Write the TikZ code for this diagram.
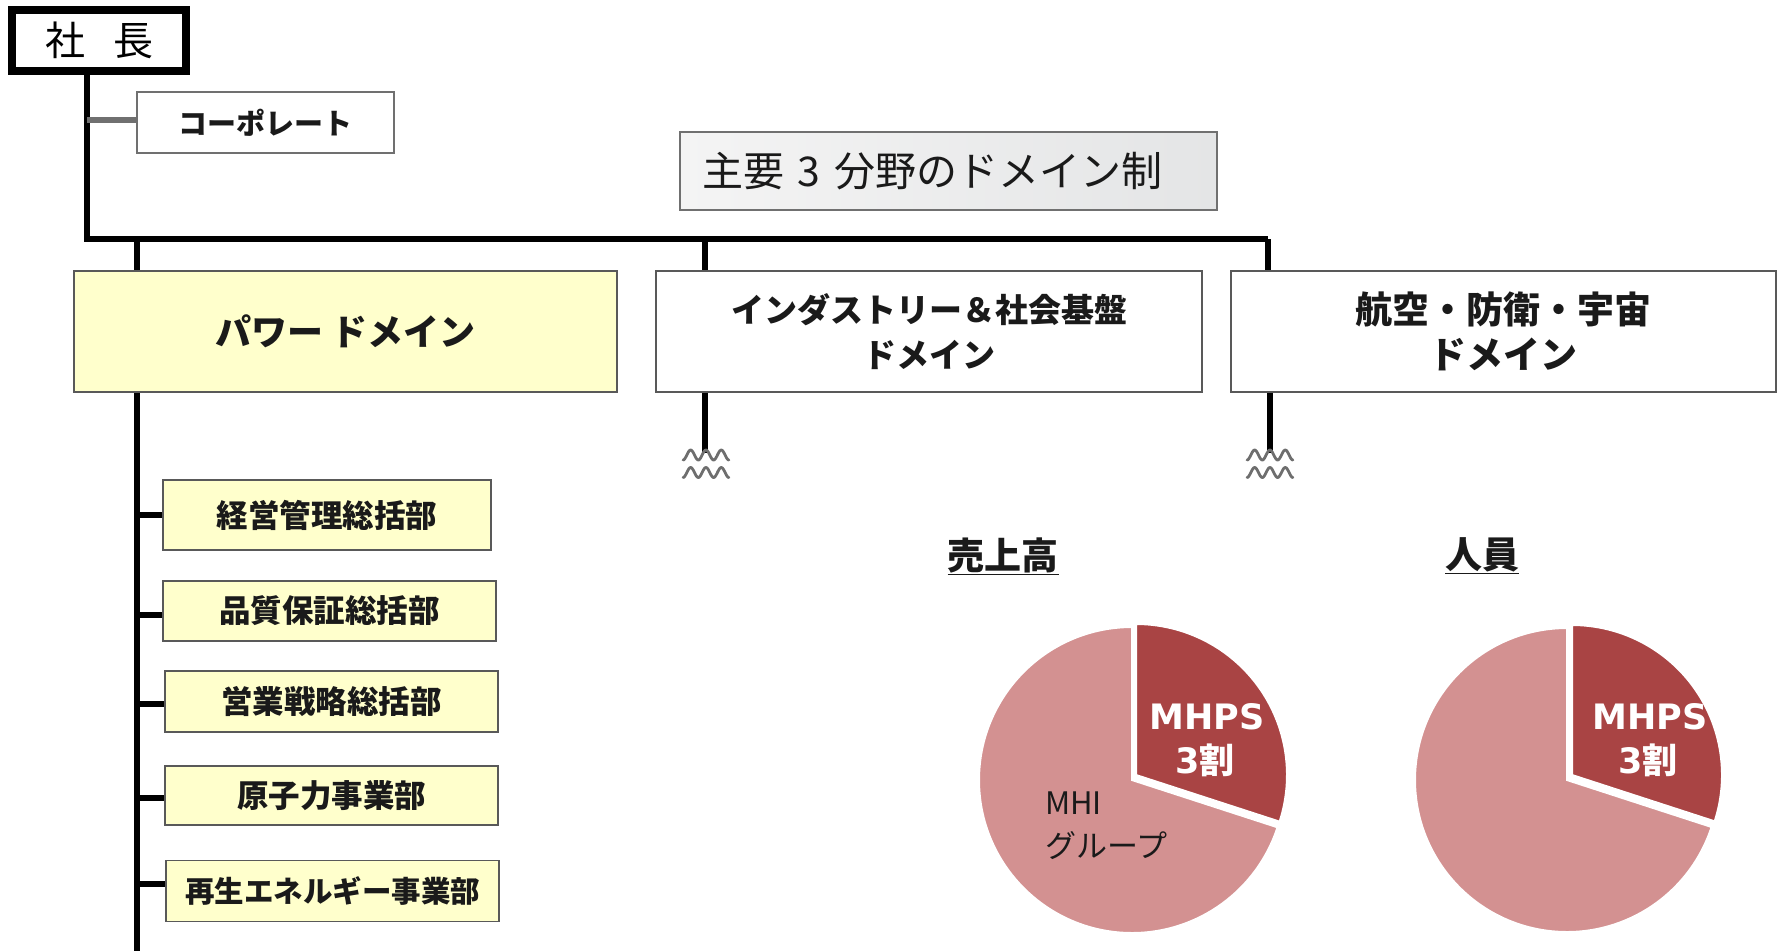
\documentclass[tikz,border=0pt]{standalone}
\usepackage{fontspec}
\setmainfont{Noto Sans CJK JP}
\newfontfamily\dv{DejaVu Sans}
\definecolor{boxgray}{HTML}{595959}
\definecolor{lightyellow}{HTML}{FFFFCC}
\definecolor{wavegray}{HTML}{6E6E6E}
\definecolor{corpgray}{HTML}{707070}
\definecolor{tl}{HTML}{F4F4F4}
\definecolor{tr}{HTML}{E4E5E6}
\definecolor{darkpie}{HTML}{A94444}
\definecolor{lightpie}{HTML}{D39191}
\definecolor{txt}{HTML}{1A1A1A}
\newcommand\fsz[2]{\fontsize{#1}{#2}\selectfont}
\tikzset{
  box/.style={draw=boxgray, line width=1.8pt, inner sep=0pt, align=center, text=txt},
  ybox/.style={box, fill=lightyellow},
  subbox/.style={ybox, font=\bfseries\fsz{31.5}{36}},
  conn/.style={line width=5.5pt, black},
  wave/.style={line width=2.8pt, wavegray, line cap=round},
  pielabel/.style={text=white, inner sep=0pt},
}
\begin{document}
\begin{tikzpicture}[x=1pt,y=-1pt]
\useasboundingbox (0,0) rectangle (1787,951);
% top
\node[draw=black, line width=8pt, minimum width=174pt, minimum height=61pt, inner sep=0pt, font=\fsz{40}{42}] (pres) at (99,40.5) {社\hspace{28pt}長};
\node[draw=corpgray, line width=2pt, minimum width=257pt, minimum height=61pt, inner sep=0pt, font=\bfseries\fsz{29}{34}, text=txt] (corp) at (265.5,122.5) {コーポレート};
\node[draw=corpgray, line width=1.8pt, left color=tl, right color=tr, minimum height=78pt, inner xsep=22pt, inner ysep=0pt, text width=493pt, align=left, font=\fsz{41}{46}, text=txt] (title) at (948.5,171) {主要 3 分野のドメイン制};
% domains
\node[ybox, minimum width=543pt, minimum height=121pt, font=\bfseries\fsz{36}{44}] (power) at (345.5,331.5) {パワー ドメイン};
\node[box, fill=white, minimum width=546pt, minimum height=121pt, font=\bfseries\fsz{33}{45}] (ind) at (929,331.5) {インダストリー＆社会基盤\\ドメイン};
\node[box, fill=white, minimum width=545pt, minimum height=121pt, font=\bfseries\fsz{37}{45}] (aero) at (1503.5,331.5) {航空・防衛・宇宙\\ドメイン};
% tree
\coordinate (j0) at (87,239);
\coordinate (j1) at (137,239);
\coordinate (j2) at (705,239);
\coordinate (j3) at (1268,239);
\coordinate (cj) at (87,120);
\draw[conn, line width=6.5pt] (pres.south -| j0) -- (j0) -- (j3);
\draw[conn] (j1) -- (power.north -| j1);
\draw[conn] (j2) -- (ind.north -| j2);
\draw[conn] (j3) -- (aero.north -| j3);
\draw[line width=6pt, corpgray] (cj) -- (cj -| corp.west);
% wave stubs
\coordinate (w1) at (705,453);
\coordinate (w2) at (1270,453);
\draw[conn] (ind.south -| w1) -- (w1);
\draw[conn] (aero.south -| w2) -- (w2);
\foreach \xo in {683,1247}{
  \draw[wave] plot[domain=0:3, samples=61, smooth] ({\xo+15.3*\x}, {455+5*cos(360*\x)});
  \draw[wave] plot[domain=0:3, samples=61, smooth] ({\xo+15.3*\x}, {472.5+5*cos(360*\x)});
}
% sub boxes
\node[subbox, minimum width=328pt, minimum height=70pt] (s1) at (327,515) {経営管理総括部};
\node[subbox, minimum width=333pt, minimum height=60pt] (s2) at (329.5,611) {品質保証総括部};
\node[subbox, minimum width=333pt, minimum height=61pt] (s3) at (331.5,701.5) {営業戦略総括部};
\node[subbox, minimum width=333pt, minimum height=59pt] (s4) at (331.5,795.5) {原子力事業部};
\node[subbox, minimum width=333pt, minimum height=61pt, font=\bfseries\fsz{29.5}{36}] (s5) at (332.5,891) {再生エネルギー事業部};
\coordinate (pb) at (137,951);
\draw[conn] (power.south -| pb) -- (pb);
\coordinate (k1) at (137,515);
\coordinate (k2) at (137,615);
\coordinate (k3) at (137,704);
\coordinate (k4) at (137,798);
\coordinate (k5) at (137,884);
\draw[conn] (k1) -- (k1 -| s1.west);
\draw[conn] (k2) -- (k2 -| s2.west);
\draw[conn] (k3) -- (k3 -| s3.west);
\draw[conn] (k4) -- (k4 -| s4.west);
\draw[conn] (k5) -- (k5 -| s5.west);
% labels
\node[font=\bfseries\fsz{37}{40}, text=txt] (sales) at (1003,556) {\underline{売上高}};
\node[font=\bfseries\fsz{37}{40}, text=txt] (staff) at (1482,556) {\underline{人員}};
% pie 1
\coordinate (p1) at (1132,780);
\coordinate (p1d) at (1136,775);
\fill[lightpie, draw=white, line width=2pt] (p1) -- ++(-90:153) arc[start angle=-90, end angle=-342, radius=153] -- cycle;
\fill[darkpie, draw=white, line width=2pt] (p1d) -- ++(18:151) arc[start angle=18, end angle=-90, radius=151] -- cycle;
\node[pielabel, font=\dv\bfseries\fsz{35}{40}] (m1) at (1207,717) {MHPS};
\node[pielabel, font=\bfseries\fsz{35}{40}] (m1b) at (1205,760) {{\dv 3}割};
\node[anchor=west, align=left, inner sep=0pt, text=txt, font=\fsz{31}{43}] (mhi) at (1045,826) {MHI\\グループ};
% pie 2
\coordinate (p2) at (1567,780);
\coordinate (p2d) at (1572,775);
\fill[lightpie, draw=white, line width=2pt] (p2) -- ++(-90:152) arc[start angle=-90, end angle=-342, radius=152] -- cycle;
\fill[darkpie, draw=white, line width=2pt] (p2d) -- ++(18:150) arc[start angle=18, end angle=-90, radius=150] -- cycle;
\node[pielabel, font=\dv\bfseries\fsz{35}{40}] (m2) at (1650,717) {MHPS};
\node[pielabel, font=\bfseries\fsz{35}{40}] (m2b) at (1648,760) {{\dv 3}割};
\end{tikzpicture}
\end{document}
